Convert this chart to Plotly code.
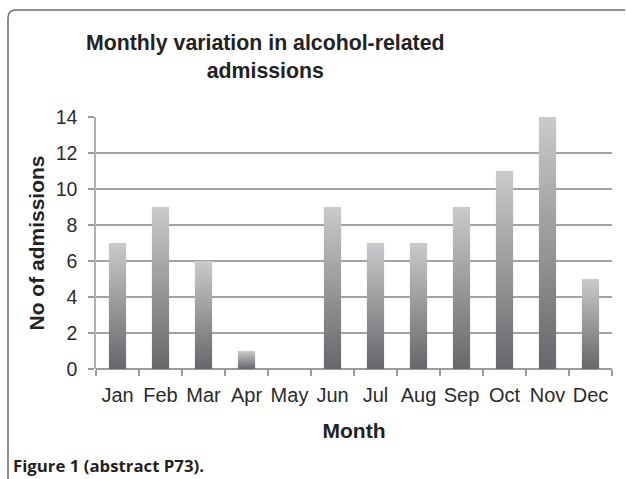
import plotly.graph_objects as go

months = ["Jan", "Feb", "Mar", "Apr", "May", "Jun", "Jul", "Aug", "Sep", "Oct", "Nov", "Dec"]
admissions = [7, 9, 6, 1, 0, 9, 7, 7, 9, 11, 14, 5]
y_ticks = [0, 2, 4, 6, 8, 10, 12, 14]

W, H = 626, 479
L, R, T, B = 96, 14, 117, 110
pw, ph = W - L - R, H - T - B

def px(x):
    return (x - L) / pw

def py(y):
    return (H - B - y) / ph

FONT = "Liberation Sans, Arial, sans-serif"
half = 0.2

fig = go.Figure()
for i, (m, v) in enumerate(zip(months, admissions)):
    if v <= 0:
        continue
    fig.add_trace(go.Scatter(
        x=[i - half, i + half, i + half, i - half, i - half],
        y=[0, 0, v, v, 0],
        mode="lines", line=dict(width=0), fill="toself",
        fillgradient=dict(type="vertical",
                          colorscale=[[0, "#67676b"], [1, "#cacacc"]]),
        name=m, showlegend=False, hoverinfo="skip",
    ))

fig.update_layout(
    width=W, height=H,
    margin=dict(l=L, r=R, t=T, b=B),
    paper_bgcolor="white", plot_bgcolor="white",
    showlegend=False,
    font=dict(family=FONT, color="#2b2b2b"),
    xaxis=dict(
        range=[-0.5, 11.5], tickmode="array",
        tickvals=list(range(len(months))), ticktext=months,
        ticks="", showgrid=False, zeroline=False,
        showline=False, ticklabelstandoff=12,
        tickfont=dict(family=FONT, size=20, color="#2b2b2b"),
        minor=dict(tickmode="array", tickvals=[k - 0.5 for k in range(len(months) + 1)],
                   ticks="outside", ticklen=6, tickcolor="#9a9a9a", tickwidth=1.5,
                   showgrid=False),
        title=dict(text="<b>Month</b>", font=dict(family=FONT, size=21, color="#222"), standoff=18),
        fixedrange=True,
    ),
    yaxis=dict(
        range=[0, 14], tickmode="array", tickvals=y_ticks,
        ticks="outside", ticklen=6, tickcolor="#9a9a9a", tickwidth=1.5,
        showgrid=True, gridcolor="#a3a3a3", gridwidth=1.5,
        zeroline=True, zerolinecolor="#9a9a9a", zerolinewidth=1.5,
        showline=True, linecolor="#b0b0b0", linewidth=1.5,
        ticklabelstandoff=7,
        tickfont=dict(family=FONT, size=19.5, color="#2b2b2b"),
        title=dict(text="<b>No of admissions</b>", font=dict(family=FONT, size=21, color="#222"), standoff=5),
        fixedrange=True,
    ),
)

# chart title
fig.add_annotation(
    text="<b>Monthly variation in alcohol-related<br>admissions</b>",
    xref="paper", yref="paper", x=px(265), y=py(57),
    xanchor="center", yanchor="middle", showarrow=False,
    font=dict(family=FONT, size=21.3, color="#222"),
)

# figure caption
fig.add_annotation(
    text="<b>Figure 1 (abstract P73).</b>",
    xref="paper", yref="paper", x=px(11), y=py(465),
    xanchor="left", yanchor="middle", showarrow=False,
    font=dict(family="Open Sans, Noto Sans, sans-serif", size=16.8, color="#231f20"),
)

# rounded frame (top-left corner) around the figure
x0, y0, r = 8, 10, 8
path = (f"M {px(x0)},{py(H + 2)} L {px(x0)},{py(y0 + r)} "
        f"Q {px(x0)},{py(y0)} {px(x0 + r)},{py(y0)} L {px(625)},{py(y0)}")
fig.add_shape(type="path", path=path, xref="paper", yref="paper",
              line=dict(color="#6a6a6a", width=1.5))

fig.write_html("out.html", config={"displayModeBar": False},
               post_script="document.body.style.margin='0';document.body.style.padding='0';")
